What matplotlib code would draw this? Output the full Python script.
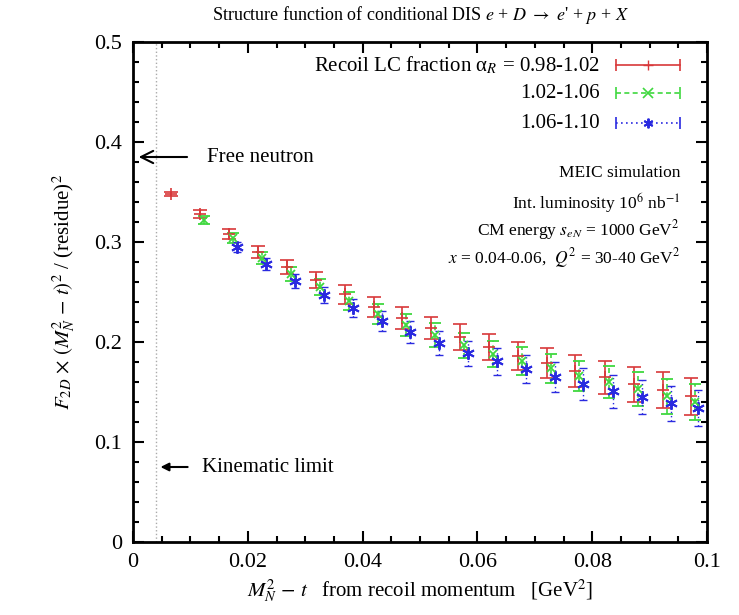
import numpy as np
import matplotlib.pyplot as plt
from matplotlib.ticker import MultipleLocator

plt.rcParams['font.family'] = ['Liberation Serif', 'DejaVu Serif']
plt.rcParams['mathtext.fontset'] = 'stix'

# red: alpha_R 0.98-1.02
x_red = [0.0066, 0.0116, 0.0167, 0.0218, 0.0268, 0.0319, 0.0369, 0.0420, 0.0469,
         0.0519, 0.0570, 0.0620, 0.0671, 0.0721, 0.0770, 0.0822, 0.0873, 0.0923, 0.0972]
y_red = [0.348, 0.328, 0.308, 0.290, 0.275, 0.262, 0.248, 0.235, 0.224,
         0.214, 0.205, 0.195, 0.186, 0.179, 0.171, 0.165, 0.158, 0.152, 0.146]
e_red = [0.002, 0.004, 0.0047, 0.006, 0.007, 0.008, 0.0095, 0.010, 0.011,
         0.0113, 0.0128, 0.0133, 0.014, 0.015, 0.016, 0.0165, 0.0175, 0.018, 0.0185]

# green: 1.02-1.06
x_grn = [0.0123, 0.0174, 0.0225, 0.0275, 0.0326, 0.0376, 0.0427, 0.0476,
         0.0526, 0.0577, 0.0627, 0.0678, 0.0728, 0.0777, 0.0829, 0.0880, 0.0930, 0.0979]
y_grn = [0.322, 0.304, 0.284, 0.268, 0.255, 0.241, 0.228, 0.217,
         0.207, 0.197, 0.188, 0.181, 0.174, 0.166, 0.160, 0.153, 0.146, 0.140]
e_grn = [0.004, 0.0047, 0.006, 0.007, 0.008, 0.009, 0.010, 0.011,
         0.012, 0.0125, 0.013, 0.014, 0.0145, 0.015, 0.016, 0.017, 0.0175, 0.018]

# blue: 1.06-1.10
x_blu = [0.0182, 0.0232, 0.0282, 0.0333, 0.0383, 0.0434, 0.0483,
         0.0533, 0.0584, 0.0634, 0.0685, 0.0735, 0.0784, 0.0836, 0.0887, 0.0937, 0.0984]
y_blu = [0.295, 0.278, 0.261, 0.247, 0.234, 0.221, 0.210,
         0.199, 0.189, 0.181, 0.173, 0.165, 0.158, 0.151, 0.145, 0.139, 0.134]
e_blu = [0.005, 0.006, 0.007, 0.008, 0.009, 0.010, 0.011,
         0.012, 0.0125, 0.0135, 0.014, 0.015, 0.016, 0.0165, 0.017, 0.0175, 0.018]

c_red = '#d8383a'
c_grn = '#3fd83f'
c_blu = '#2a2ae0'
asterisk = (6, 2, 0)

fig = plt.figure(figsize=(7.39, 6.15), dpi=100)
ax = fig.add_axes([0.18, 0.1187, 0.7767, 0.813])

eb = ax.errorbar(x_red, y_red, yerr=e_red, fmt='+', color=c_red, ms=8, mew=1.2,
                 elinewidth=1.2, capsize=5, capthick=1.2)
eb = ax.errorbar(x_grn, y_grn, yerr=e_grn, fmt='x', color=c_grn, ms=6, mew=1.3,
                 elinewidth=1.2, capsize=4, capthick=1.2)
eb[2][0].set_linestyle((0, (3, 2)))
eb = ax.errorbar(x_blu, y_blu, yerr=e_blu, fmt='none', color=c_blu,
                 elinewidth=1.0, capsize=3, capthick=1.0)
eb[2][0].set_linestyle((0, (1, 2)))
ax.plot(x_blu, y_blu, ls='none', marker=asterisk, color=c_blu, ms=9, mew=1.4)

ax.axvline(0.004, color='#aaaaaa', lw=1, ls=':')

ax.set_xlim(0, 0.1)
ax.set_ylim(0, 0.5)
ax.xaxis.set_major_locator(MultipleLocator(0.02))
ax.xaxis.set_minor_locator(MultipleLocator(0.005))
ax.yaxis.set_major_locator(MultipleLocator(0.1))
ax.yaxis.set_minor_locator(MultipleLocator(0.02))
ax.xaxis.set_major_formatter(plt.FuncFormatter(lambda v, p: ('%g' % round(v, 3))))
ax.yaxis.set_major_formatter(plt.FuncFormatter(lambda v, p: ('%g' % round(v, 3))))
ax.tick_params(which='both', direction='in', top=True, right=True, labelsize=16, width=1.5)
ax.tick_params(which='major', length=8, pad=8)
ax.tick_params(which='minor', length=4)
for s in ax.spines.values():
    s.set_linewidth(2)

ax.set_xlabel(r'$M_N^2$ $-$ $t$   from recoil momentum   [GeV$^2$]', fontsize=15, labelpad=4)
ax.set_ylabel(r'$F_{2D}$ $\times$ $(M_N^2$ $-$ $t)^2$ / (residue)$^2$', fontsize=15, labelpad=12)
ax.set_title(r"Structure function of conditional DIS $e$ + $D$ $\rightarrow$ $e$' + $p$ + $X$",
             fontsize=13, pad=16)

# legend drawn gnuplot-style
rows = [(0.954, 'Recoil LC fraction α$_R$ = 0.98-1.02', c_red, '-', '+', 1.0),
        (0.898, '1.02-1.06', c_grn, (0, (3, 2)), 'x', 1.2),
        (0.838, '1.06-1.10', c_blu, (0, (1, 2)), asterisk, 1.4)]
for yy, lab, col, ls, mk, mw in rows:
    ax.text(0.8136, yy, lab, transform=ax.transAxes, ha='right', va='center', fontsize=15)
    ax.plot([0.842, 0.953], [yy, yy], transform=ax.transAxes, color=col, ls=ls, lw=1.2)
    ax.plot([0.842, 0.953], [yy, yy], transform=ax.transAxes, color=col, ls='none',
            marker='|', ms=8, mew=1.2)
    ax.plot([0.8975], [yy], transform=ax.transAxes, color=col, marker=mk, ms=7, mew=mw)

info = ['MEIC simulation',
        r'Int. luminosity 10$^6$ nb$^{-1}$',
        r'CM energy $s_{eN}$ = 1000 GeV$^2$',
        r'$x$ = 0.04-0.06,  $Q^2$ = 30-40 GeV$^2$']
for yy, t in zip([0.738, 0.678, 0.624, 0.568], info):
    ax.text(0.953, yy, t, transform=ax.transAxes, ha='right', va='center', fontsize=12.5)

ax.annotate('', xy=(0.0005, 0.385), xytext=(0.0099, 0.385),
            arrowprops=dict(arrowstyle='->', lw=1.5, color='black', mutation_scale=22))
ax.text(0.0129, 0.385, 'Free neutron', fontsize=15, va='center')
ax.annotate('', xy=(0.0043, 0.075), xytext=(0.0100, 0.075),
            arrowprops=dict(arrowstyle='-|>', lw=1.5, color='black', mutation_scale=12))
ax.text(0.0120, 0.075, 'Kinematic limit', fontsize=15, va='center')

fig.savefig('out.png', dpi=100)
